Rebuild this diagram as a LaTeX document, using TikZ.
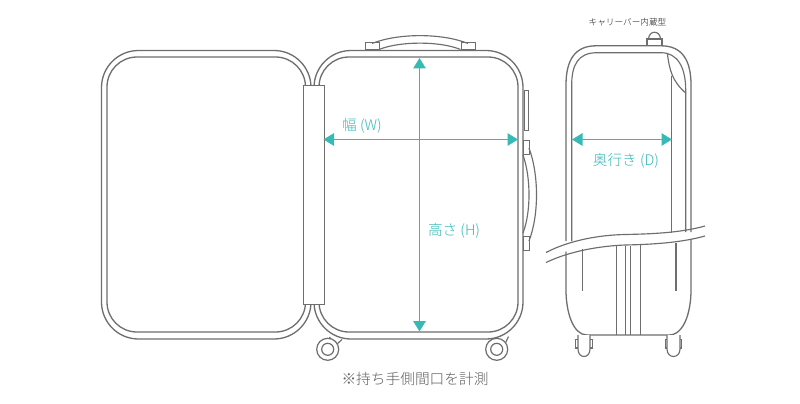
\documentclass[tikz,border=0pt]{standalone}
\usepackage{fontspec}
\setmainfont{Noto Sans CJK JP}[UprightFont=* Light]
\usetikzlibrary{arrows.meta}
\definecolor{teal1}{HTML}{36BAB6}
\definecolor{ln}{HTML}{6E6E6E}
\tikzset{
 outline/.style={draw=ln,line width=1.3pt,line cap=butt},
 thin outline/.style={draw=ln,line width=1.15pt},
 measure/.style={draw=teal1,line width=1.3pt,{Triangle[length=10.5pt,width=12.5pt]}-{Triangle[length=10.5pt,width=12.5pt]}},
 label/.style={text=teal1,font=\fontsize{14.6}{14.6}\selectfont,inner sep=0pt},
 note/.style={text=black!62,font=\fontsize{14.7}{14.7}\selectfont,inner sep=0pt},
 small/.style={text=black!90,font=\fontsize{8.65}{8.65}\selectfont,inner sep=0pt},
 wheel/.style={draw=ln,line width=1.2pt,circle,inner sep=0pt,fill=white},
}
\begin{document}
\begin{tikzpicture}[x=1pt,y=-1pt]
\useasboundingbox[fill=white] (0,0) rectangle (800,404);
% left panel
\draw[outline,rounded corners=37pt] (311,85) -- (311,50.5) -- (101.5,50.5) -- (101.5,339) -- (311,339) -- (311,304);
\draw[outline,rounded corners=30pt] (305.5,85) -- (305.5,57) -- (107,57) -- (107,332) -- (305.5,332) -- (305.5,304);
% right panel
\draw[outline,rounded corners=37pt] (314,85) -- (314,50.5) -- (523,50.5) -- (523,339) -- (314,339) -- (314,304);
\draw[outline,rounded corners=30pt] (319,85) -- (319,57) -- (518,57) -- (518,332) -- (319,332) -- (319,304);
% hinge
\node[outline,fill=white,minimum width=20.5pt,minimum height=219pt,inner sep=0pt,anchor=north west] (hinge) at (303,85) {};
% top handle
\node[thin outline,minimum width=14.5pt,minimum height=6.5pt,inner sep=0pt,anchor=south west] (tabL) at (364.5,50) {};
\node[thin outline,minimum width=14.5pt,minimum height=6.5pt,inner sep=0pt,anchor=south west] (tabR) at (460.5,50) {};
\draw[thin outline] (372,43.5) .. controls (398,33) and (442,33) .. (468,43.5);
\draw[thin outline] (379,49.5) .. controls (400,41) and (440,41) .. (460.5,49.5);
% side tabs
\node[thin outline,minimum width=4.5pt,minimum height=40pt,inner sep=0pt,anchor=north west] (slot) at (523.5,90) {};
\node[thin outline,minimum width=6pt,minimum height=14pt,inner sep=0pt,anchor=north west] (tabT) at (523,139.5) {};
\node[thin outline,minimum width=6pt,minimum height=14pt,inner sep=0pt,anchor=north west] (tabB) at (523,235.5) {};
\draw[thin outline] (529,148) .. controls (539,175) and (539,215) .. (529,241);
\draw[thin outline] (523,155) .. controls (531,178) and (531,212) .. (523,233);
% wheels
\draw[thin outline] (329.5,337) -- (332,340.5);
\draw[thin outline] (342,339.5) -- (336.5,344.5);
\draw[thin outline] (508.5,336.5) -- (505,344);
\draw[thin outline] (498,339.5) -- (502,339.5);
\node[wheel,minimum size=22pt] (w1) at (327.7,349.3) {};
\node[wheel,minimum size=12pt] (w1i) at (327.7,349.3) {};
\node[wheel,minimum size=22pt] (w2) at (496.7,349.3) {};
\node[wheel,minimum size=12pt] (w2i) at (496.7,349.3) {};
% measures
\coordinate (vt) at (419.5,58); \coordinate (vb) at (419.5,331.5);
\coordinate (hl) at (323.5,139.5); \coordinate (hr) at (518,139.5);
\draw[measure] (vt) -- (vb);
\draw[measure] (hl) -- (hr);
\node[label] (lw) at (362,125.5) {幅 (W)};
\node[label] (lh) at (454,230.5) {高さ (H)};
\node[note] (ln1) at (415,378.5) {※持ち手側間口を計測};
% side view top
\node[small] (lc) at (627.5,22.5) {キャリーバー内蔵型};
\draw[thin outline] (647,46) -- (647,39) -- (662,39) -- (662,46);
\draw[thin outline] (648.5,39) .. controls (649,30) and (660,30) .. (660.5,39);
\draw[outline] (566,241) -- (566,85) .. controls (566,60) and (575,45.8) .. (596,45.8) -- (661,45.8) .. controls (682,45.8) and (691,60) .. (691,85) -- (691,232);
\draw[thin outline] (571.7,241) -- (571.7,85) .. controls (571.7,65) and (578,52.7) .. (597,52.7) -- (661,52.7) .. controls (678,52.7) and (685.7,68) .. (685.7,90) -- (685.7,232);
\draw[thin outline] (667.3,53) .. controls (669.5,70) and (672,81) .. (685.7,93);
\draw[thin outline] (671.7,76) -- (671.7,233);
% wave
\draw[thin outline] (546,252.5) .. controls (570,240) and (600,235) .. (625,234.5) .. controls (650,234) and (680,233) .. (705,226);
\draw[thin outline] (546,262.5) .. controls (570,251) and (600,246) .. (625,245) .. controls (650,244.5) and (680,243) .. (705,236);
% side view lower
\draw[outline] (566,251.5) -- (566,290) .. controls (566,312) and (573,335) .. (587,335) -- (669,335) .. controls (684,335) and (691,312) .. (691,290) -- (691,239);
\draw[thin outline] (582.7,249) -- (582.7,291);
\draw[thin outline] (676,243) -- (676,291);
\draw[thin outline] (616.7,245.5) -- (616.7,335);
\draw[thin outline] (625.7,245.5) -- (625.7,335);
\draw[thin outline] (630.7,245.5) -- (630.7,335);
\draw[thin outline] (640.3,245) -- (640.3,335);
% side wheels
\draw[thin outline] (575.7,339.5) rectangle (592.3,348);
\draw[thin outline,fill=white] (578,335) -- (578,349) .. controls (578,359) and (590,359) .. (590,349) -- (590,335);
\draw[thin outline] (665.2,339.5) rectangle (681.6,348);
\draw[thin outline,fill=white] (667,335) -- (667,349) .. controls (667,359) and (680,359) .. (680,349) -- (680,335);
% depth
\coordinate (dl) at (572,139.5); \coordinate (dr) at (672,139.5);
\draw[measure] (dl) -- (dr);
\node[label] (ld) at (626,160.5) {奥行き (D)};
\end{tikzpicture}
\end{document}
